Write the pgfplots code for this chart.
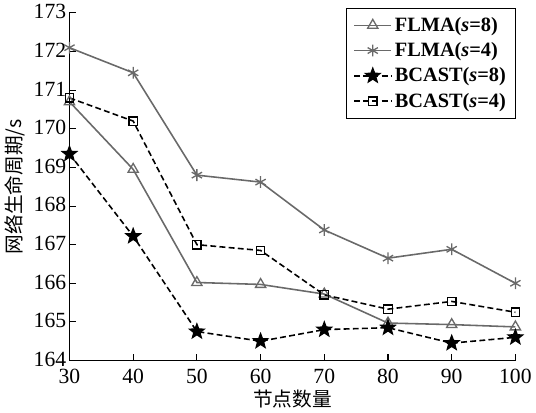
\documentclass[border=0pt]{standalone}
\usepackage{pgfplots}
\pgfplotsset{compat=1.18}
\usepackage{fontspec}
\setmainfont{Liberation Serif}
\newfontfamily\cjk{Noto Sans CJK SC}
\definecolor{lg}{RGB}{105,105,105}
\pgfdeclareplotmark{fstar}{%
  \pgfpathmoveto{\pgfqpointpolar{90}{\pgfplotmarksize}}%
  \pgfpathlineto{\pgfqpointpolar{126}{0.42\pgfplotmarksize}}%
  \pgfpathlineto{\pgfqpointpolar{162}{\pgfplotmarksize}}%
  \pgfpathlineto{\pgfqpointpolar{198}{0.42\pgfplotmarksize}}%
  \pgfpathlineto{\pgfqpointpolar{234}{\pgfplotmarksize}}%
  \pgfpathlineto{\pgfqpointpolar{270}{0.42\pgfplotmarksize}}%
  \pgfpathlineto{\pgfqpointpolar{306}{\pgfplotmarksize}}%
  \pgfpathlineto{\pgfqpointpolar{342}{0.42\pgfplotmarksize}}%
  \pgfpathlineto{\pgfqpointpolar{18}{\pgfplotmarksize}}%
  \pgfpathlineto{\pgfqpointpolar{54}{0.42\pgfplotmarksize}}%
  \pgfpathclose
  \pgfusepathqfillstroke}
\begin{document}
\begin{tikzpicture}
\begin{axis}[
  scale only axis,
  width=340pt, height=265pt,
  xmin=30, xmax=100, ymin=164, ymax=173,
  xtick={30,40,...,100}, ytick={164,165,...,173},
  xticklabels={30,40,50,60,70,80,90,100},
  yticklabels={164,165,166,167,168,169,170,171,172,173},
  axis x line*=bottom, axis y line*=left,
  axis line style={-, line width=0.8pt},
  tick style={black, line width=0.8pt},
  tick align=inside,
  major tick length=5pt,
  tick label style={font=\fontsize{16.5}{17}\selectfont},
  xticklabel style={yshift=-3pt},
  yticklabel style={xshift=1pt, yshift=1pt},
  xlabel={\cjk 节点数量}, ylabel={\cjk 网络生命周期/s},
  label style={font=\fontsize{15}{16}\selectfont},
  xlabel style={yshift=2pt}, ylabel style={yshift=0pt},
  legend style={at={(1,1)}, anchor=north east, xshift=0pt, yshift=4pt,
    font=\fontsize{15.5}{17}\selectfont\bfseries, draw=black, line width=0.6pt,
    row sep=3pt, inner sep=5pt, fill=white},
  legend cell align=left,
  legend image code/.code={\draw[mark repeat=2,mark phase=2] plot coordinates {(0cm,0cm)(0.5cm,0cm)(1.0cm,0cm)};},
  every axis plot/.append style={line width=1.2pt},
]
\addplot[lg, mark=triangle, mark size=4.5pt, mark options={solid, line width=1pt}] coordinates {
(30,170.7) (40,168.95) (50,166.02) (60,165.97) (70,165.72) (80,164.97) (90,164.93) (100,164.87)};
\addlegendentry{FLMA(\textit{s}=8)}
\addplot[lg, mark=asterisk, mark size=4.5pt, mark options={solid, line width=1pt}] coordinates {
(30,172.1) (40,171.45) (50,168.8) (60,168.62) (70,167.38) (80,166.65) (90,166.88) (100,166.0)};
\addlegendentry{FLMA(\textit{s}=4)}
\addplot[black, dash pattern=on 4.5pt off 2.5pt, mark=fstar, mark size=6pt, mark options={solid, line width=0.8pt, fill=black, draw=black}] coordinates {
(30,169.35) (40,167.22) (50,164.75) (60,164.5) (70,164.8) (80,164.85) (90,164.45) (100,164.6)};
\addlegendentry{BCAST(\textit{s}=8)}
\addplot[black, dash pattern=on 4.5pt off 2.5pt, mark=square, mark size=3.2pt, mark options={solid, line width=1pt}] coordinates {
(30,170.8) (40,170.2) (50,167.0) (60,166.85) (70,165.7) (80,165.33) (90,165.53) (100,165.25)};
\addlegendentry{BCAST(\textit{s}=4)}
\end{axis}
\end{tikzpicture}
\end{document}
